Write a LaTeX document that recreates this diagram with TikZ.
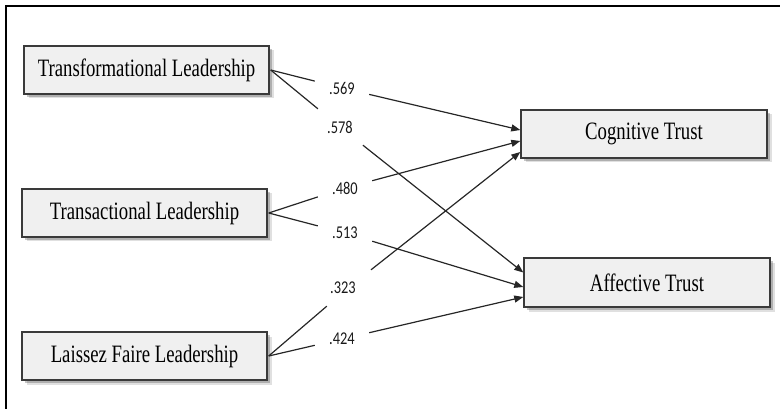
\documentclass[tikz,border=0pt]{standalone}
\usepackage{fontspec}
\setmainfont{Liberation Serif}
\newfontfamily\boxfont[FakeStretch=0.75]{Liberation Serif}
\newfontfamily\numfont[FakeStretch=0.8]{Carlito}
\usetikzlibrary{arrows.meta,shadows,calc}
\definecolor{boxfill}{HTML}{F0F0F0}
\definecolor{boxline}{HTML}{3A3A3A}
\definecolor{lineclr}{HTML}{262626}
\tikzset{
  varbox/.style={draw=boxline, line width=1.4pt, fill=boxfill,
    minimum width=245pt, minimum height=48pt, inner sep=0pt,
    font=\boxfont\fontsize{25}{28}\selectfont,
    drop shadow={shadow xshift=4.5pt, shadow yshift=-4.5pt, fill=black, opacity=0.12},
    drop shadow={shadow xshift=3pt, shadow yshift=-3pt, fill=black, opacity=0.22}},
  coef/.style={inner sep=0pt, minimum width=54pt, minimum height=36pt,
    font=\numfont\fontsize{18}{20}\selectfont, text=black!90},
  path/.style={draw=lineclr, line width=1.2pt},
  arr/.style={path, -{Triangle[length=9pt, width=7pt]}}
}
\begin{document}
\begin{tikzpicture}[x=1pt, y=-1pt]
\useasboundingbox (0,0) rectangle (780,409);
% frame
\draw[line width=2pt, black] (5.5,409) -- (5.5,6) -- (780,6);
% variables
\node[varbox] (tf) at (146.5,70) {Transformational Leadership};
\node[varbox] (ta) at (144.5,213) {Transactional Leadership};
\node[varbox] (lf) at (144.5,356) {Laissez Faire Leadership};
\node[varbox, minimum width=246pt] (cog) at (644,134) {Cognitive Trust};
\node[varbox, minimum width=246pt, minimum height=49pt] (aff) at (647,282.5) {Affective Trust};
% coefficient labels
\node[coef] (c569) at (342,88) {.569};
\node[coef] (c578) at (340,127) {.578};
\node[coef] (c480) at (345,188) {.480};
\node[coef] (c513) at (345,233) {.513};
\node[coef, minimum width=46pt] (c323) at (348,288) {\phantom{.}};
\node[font=\numfont\fontsize{18}{20}\selectfont, text=black!90, inner sep=0pt] (t323) at (343,288) {.323};
\node[coef] (c424) at (342,339) {.424};
% paths
\draw[path] ($(tf.east)+(1,0)$) -- (c569);
\draw[arr] (c569) -- ($(cog.west)+(0,-4)$);
\draw[path] ($(tf.east)+(1,0)$) -- (c578);
\draw[arr] (c578) -- ($(aff.west)+(0,-10)$);
\draw[path] ($(ta.east)+(1,0)$) -- (c480);
\draw[arr] (c480) -- ($(cog.west)+(0,7)$);
\draw[path] ($(ta.east)+(1,0)$) -- (c513);
\draw[arr] (c513) -- ($(aff.west)+(0,4.5)$);
\draw[path] ($(lf.east)+(1,0)$) -- (c323);
\draw[arr] (c323) -- ($(cog.west)+(0,18)$);
\draw[path] ($(lf.east)+(1,0)$) -- (c424);
\draw[arr] (c424) -- ($(aff.west)+(0,14.5)$);
\end{tikzpicture}
\end{document}
